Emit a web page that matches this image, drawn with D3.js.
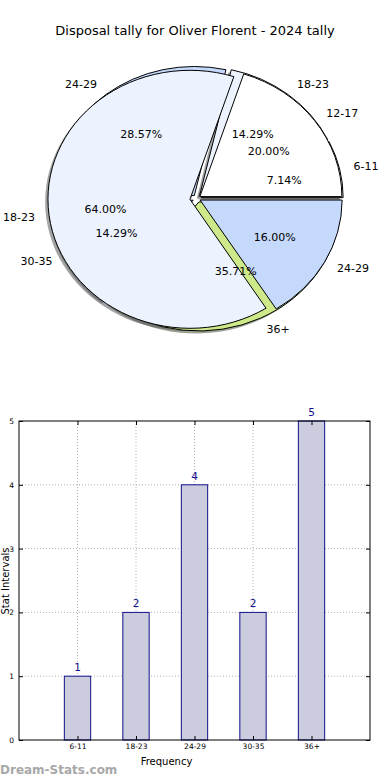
<!DOCTYPE html>
<html><head><meta charset="utf-8">
<script src="https://cdn.jsdelivr.net/npm/d3@7/dist/d3.min.js"></script>
<style>
html,body{margin:0;padding:0;background:#fff;}
svg{display:block;font-family:"DejaVu Sans",sans-serif;}
</style></head>
<body>
<svg id="chart" width="390" height="780"></svg>
<script>
const chartTitle = "Disposal tally for Oliver Florent - 2024 tally";
const pieACategories = ["6-11","18-23","24-29","30-35","36+"];
const pieAValues = [1,2,4,2,5];
const pieAColors = ["#ffffff","#ecf2fe","#c5d9fd","#e4e4ec","#cde98a"];
const pieAExplode = [0.03,0.03,0.03,0.03,0.03];
const pieBCategories = ["12-17","18-23","24-29"];
const pieBValues = [5,16,4];
const pieBColors = ["#ffffff","#ecf2fe","#c5d9fd"];
const pieBExplode = [0.025,0.05,0.025];
const barCategories = ["6-11","18-23","24-29","30-35","36+"];
const barValues = [1,2,4,2,5];
const yTicks = [0,1,2,3,4,5];
const xLabel = "Frequency";
const yLabel = "Stat Intervals";
const watermark = "Dream-Stats.com";

const svg = d3.select("#chart");

svg.append("text").attr("x",195).attr("y",30).attr("text-anchor","middle")
  .attr("dominant-baseline","central").attr("font-size",13).text(chartTitle);

// ---- Pie ----
const cx = 197, cy = 198.5, rx = 142, ry = 129;
const pieGen = d3.pie().sort(null).startAngle(Math.PI/2).endAngle(Math.PI/2 - 2*Math.PI);
const arcGen = d3.arc().innerRadius(0).outerRadius(rx);
function prep(values, cats, colors, explode){
  return pieGen(values).map((d,i)=>{
    const a = (d.startAngle + d.endAngle)/2;
    const e = explode[i];
    return {d, a, cat:cats[i], color:colors[i], pct: d.value/d3.sum(values)*100,
      ox: e*rx*Math.sin(a), oy: -e*ry*Math.cos(a)};
  });
}
const A = prep(pieAValues, pieACategories, pieAColors, pieAExplode);
const B = prep(pieBValues, pieBCategories, pieBColors, pieBExplode);
const pieLayer = svg.append("g");
function darker(c){ const k = d3.rgb(c); return d3.rgb(k.r*0.3,k.g*0.3,k.b*0.3).toString(); }
function drawShadows(S){
  pieLayer.selectAll(null).data(S).enter().append("path")
    .attr("transform", s=>`translate(${cx+s.ox-2.8},${cy+s.oy+2.6}) scale(1,${ry/rx})`)
    .attr("d", s=>arcGen(s.d)).attr("fill", s=>darker(s.color)).attr("fill-opacity",0.5)
    .attr("stroke","none");
}
function drawWedges(S){
  pieLayer.selectAll(null).data(S).enter().append("path")
    .attr("transform", s=>`translate(${cx+s.ox},${cy+s.oy}) scale(1,${ry/rx})`)
    .attr("d", s=>arcGen(s.d)).attr("fill", s=>s.color)
    .attr("stroke","#000").attr("stroke-width",1).attr("vector-effect","non-scaling-stroke")
    .attr("stroke-linejoin","miter");
}
function drawLabels(S){
  S.forEach(s=>{
    const sx = Math.sin(s.a), cyy = Math.cos(s.a);
    pieLayer.append("text")
      .attr("x", cx+s.ox+1.1*rx*sx).attr("y", cy+s.oy-1.1*ry*cyy)
      .attr("text-anchor", sx>0?"start":"end").attr("dominant-baseline","central")
      .attr("font-size",11).text(s.cat);
    pieLayer.append("text")
      .attr("x", cx+s.ox+0.6*rx*sx).attr("y", cy+s.oy-0.6*ry*cyy)
      .attr("text-anchor","middle").attr("dominant-baseline","central")
      .attr("font-size",11).text(s.pct.toFixed(2)+"%");
  });
}
drawShadows(A); drawShadows(B);
drawWedges(A); drawWedges(B);
drawLabels(A); drawLabels(B);

// ---- Bar chart ----
const L = 19, R = 370, T = 421, Bt = 740;
const x = d3.scaleLinear().domain([-1,5]).range([L,R]);
const y = d3.scaleLinear().domain([0,5]).range([Bt,T]);
const g = svg.append("g");
const idx = barCategories.map((c,i)=>i);
// grid
g.selectAll(null).data(idx).enter().append("line")
  .attr("x1",i=>x(i)).attr("x2",i=>x(i)).attr("y1",T).attr("y2",Bt)
  .attr("stroke","#b0b0b0").attr("stroke-dasharray","1,2");
g.selectAll(null).data(yTicks.slice(1,-1)).enter().append("line")
  .attr("x1",L).attr("x2",R).attr("y1",v=>y(v)).attr("y2",v=>y(v))
  .attr("stroke","#b0b0b0").attr("stroke-dasharray","1,2");
// bars
const bw = 0.45;
g.selectAll(null).data(barValues).enter().append("rect")
  .attr("x",(v,i)=>x(i-bw/2)).attr("width",x(bw)-x(0))
  .attr("y",v=>y(v)).attr("height",v=>y(0)-y(v))
  .attr("fill","#ccccdf").attr("stroke","#10108a").attr("stroke-width",1);
g.selectAll(null).data(barValues).enter().append("text")
  .attr("x",(v,i)=>x(i)).attr("y",v=>y(v)-5)
  .attr("text-anchor","middle").attr("font-size",10.5).attr("fill","#10108a").text(v=>v);
// axes
const axB = d3.axisBottom(x).tickValues(idx).tickFormat(i=>barCategories[i]).tickSize(-4).tickPadding(4);
const axT = d3.axisTop(x).tickValues(idx).tickFormat("").tickSize(-4);
const axL = d3.axisLeft(y).tickValues(yTicks).tickFormat(d3.format("d")).tickSize(-4).tickPadding(5);
const axR = d3.axisRight(y).tickValues(yTicks).tickFormat("").tickSize(-4);
function styleAx(sel){ sel.select(".domain").remove(); sel.selectAll("line").attr("stroke","#000");
  sel.selectAll("text").attr("font-size",7.5).attr("font-family","DejaVu Sans").attr("fill","#000"); }
g.append("g").attr("transform",`translate(0,${Bt})`).call(axB).call(styleAx);
g.append("g").attr("transform",`translate(0,${T})`).call(axT).call(styleAx);
g.append("g").attr("transform",`translate(${L},0)`).call(axL).call(styleAx);
g.append("g").attr("transform",`translate(${R},0)`).call(axR).call(styleAx);
g.append("rect").attr("x",L).attr("y",T).attr("width",R-L).attr("height",Bt-T)
  .attr("fill","none").attr("stroke","#000").attr("stroke-width",1);
g.append("text").attr("x",(L+R)/2-28).attr("y",761).attr("text-anchor","middle")
  .attr("dominant-baseline","central").attr("font-size",10).text(xLabel);
g.append("text").attr("transform",`translate(9,581) rotate(-90)`).attr("text-anchor","middle")
  .attr("font-size",10).text(yLabel);
svg.append("text").attr("x",0).attr("y",774).attr("font-size",12).attr("font-weight","bold")
  .attr("fill","#a8a8a8").text(watermark);
</script>
</body></html>
